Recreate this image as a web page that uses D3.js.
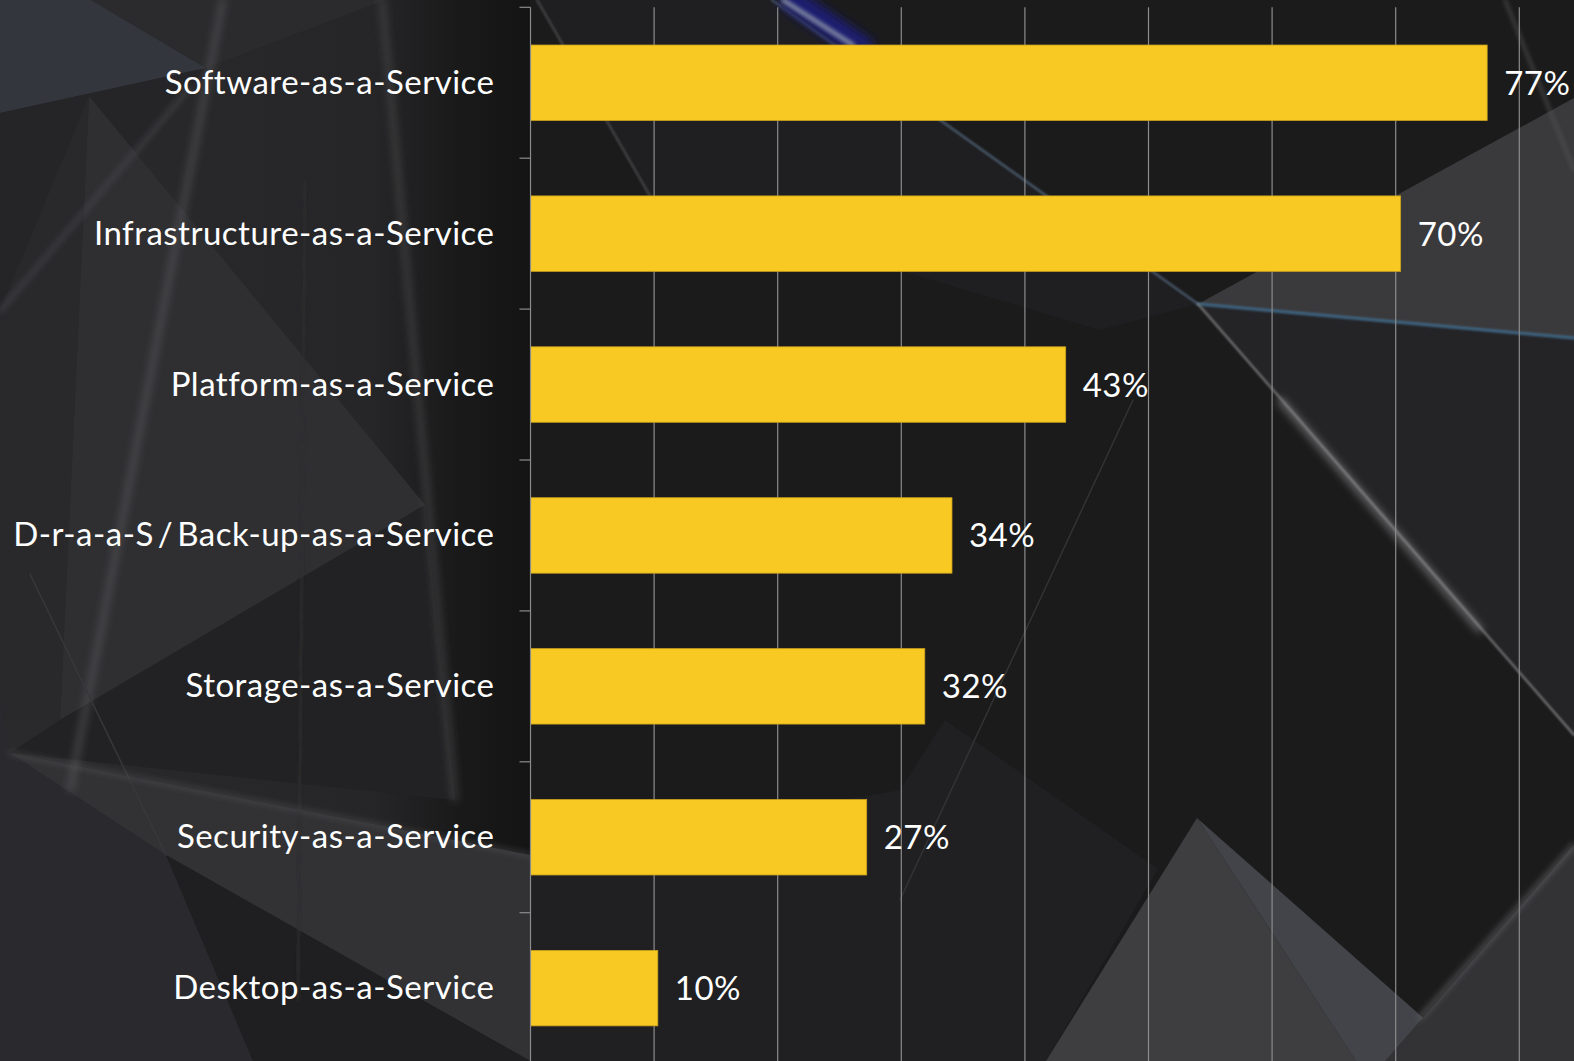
<!DOCTYPE html>
<html><head><meta charset="utf-8">
<script src="https://cdn.jsdelivr.net/npm/d3@7"></script>
<style>html,body{margin:0;padding:0;background:#1b1b1c;overflow:hidden}svg{display:block}</style>
</head><body>
<svg id="chart" width="1574" height="1061"></svg>
<script>
// ---- data ----
const categories = [
  "Software-as-a-Service",
  "Infrastructure-as-a-Service",
  "Platform-as-a-Service",
  "D-r-a-a-S / Back-up-as-a-Service",
  "Storage-as-a-Service",
  "Security-as-a-Service",
  "Desktop-as-a-Service"
];
const values = [0.774, 0.704, 0.433, 0.341, 0.319, 0.272, 0.103];
const gridTicks = [0.1, 0.2, 0.3, 0.4, 0.5, 0.6, 0.7, 0.8, 0.9];

// ---- decorative background (not data) ----
const bgPolys = [
  {p:[[0,0],[91,0],[206,68],[0,113]], f:"#33363d"},
  {p:[[91,0],[385,0],[206,68]], f:"#2b2b2e"},
  {p:[[0,113],[206,68],[0,311]], f:"#252528"},
  {p:[[89,96],[425,505],[60,720]], f:"#2f2f32"},
  {p:[[0,311],[89,96],[60,720],[0,720]], f:"#29292c"},
  {p:[[60,720],[425,505],[455,800],[10,753]], f:"#222224"},
  {p:[[0,700],[10,753],[166,855],[253,1061],[0,1061]], f:"#2a2a2e"},
  {p:[[10,753],[530,855],[530,1061],[166,855]], f:"#323235"},
  {p:[[166,855],[530,1061],[253,1061]], f:"#1f1f21"},
  {p:[[945,720],[1158,869],[1046,1061],[530,1061],[530,855],[900,790]], f:"#202023"},
  {p:[[1198,304],[1574,98],[1574,338]], f:"#3a3a3c"},
  {p:[[1198,304],[1574,338],[1574,735]], f:"#242427"},
  {p:[[1197,818],[1046,1061],[1356,1061]], f:"#3e3e40"},
  {p:[[1197,818],[1356,1061],[1472,1061]], f:"#434449"},
  {p:[[1574,845],[1574,1061],[1385,1061]], f:"#333336"},
  {p:[[650,196],[537,0],[772,0],[1198,304],[1100,330]], f:"#1f1f21"}
];
const bgLines = [
  {a:[223,0], b:[70,790], c:"#666668", w:3, blur:4},
  {a:[382,0], b:[455,800], c:"#58585a", w:3, blur:4},
  {a:[0,311], b:[189,88], c:"#555558", w:2, blur:3},
  {a:[30,574], b:[166,855], c:"#38383a", w:1.5, blur:0},
  {a:[305,180], b:[298,1000], c:"#2d2d2f", w:2, blur:1},
  {a:[10,753], b:[530,855], c:"#5a5a5c", w:2, blur:3},
  {a:[537,0], b:[650,196], c:"#4a4a4c", w:2, blur:1},
  {a:[772,0], b:[1198,304], c:"#4f6378", w:2, blur:1},
  {a:[792,0], b:[862,48], c:"#1c1c70", w:24, blur:5},
  {a:[783,0], b:[853,45], c:"#8d97a8", w:4, blur:2},
  {a:[1198,304], b:[1574,338], c:"#3f6684", w:3, blur:1},
  {a:[1198,304], b:[1574,735], c:"#7a7a7c", w:2, blur:1},
  {a:[1280,400], b:[1480,630], c:"#9a9a9c", w:4, blur:4},
  {a:[1133,400], b:[900,900], c:"#333335", w:1.5, blur:0},
  {a:[1505,0], b:[1574,170], c:"#555557", w:2, blur:2},
  {a:[1574,845], b:[1420,1018], c:"#6a6a6c", w:3, blur:3},
  {a:[1172,0], b:[1172,90], c:"#3e5468", w:4, blur:4}
];

const svg = d3.select("#chart");
const W = 1574, H = 1061;
const defs = svg.append("defs");
[1,2,3,4,5].forEach(s => {
  defs.append("filter").attr("id","blur"+s).attr("x","-50%").attr("y","-50%").attr("width","200%").attr("height","200%")
    .append("feGaussianBlur").attr("stdDeviation", s);
});
const lg = defs.append("linearGradient").attr("id","leftShade").attr("x1","0").attr("x2","1").attr("y1","0").attr("y2","0");
lg.append("stop").attr("offset","0").attr("stop-color","#2a2a2c");
lg.append("stop").attr("offset","0.7").attr("stop-color","#262628");
lg.append("stop").attr("offset","0.86").attr("stop-color","#1a1a1b");
lg.append("stop").attr("offset","1").attr("stop-color","#141414");
const rg = defs.append("radialGradient").attr("id","topGlow").attr("cx","0.5").attr("cy","0").attr("r","0.5");
rg.append("stop").attr("offset","0").attr("stop-color","#2a2a8a").attr("stop-opacity",0.5);
rg.append("stop").attr("offset","1").attr("stop-color","#2a2a8a").attr("stop-opacity",0);

const bg = svg.append("g").attr("class","background");
bg.append("rect").attr("width",W).attr("height",H).attr("fill","#1b1b1c");
bg.append("rect").attr("width",530).attr("height",H).attr("fill","url(#leftShade)");
bg.selectAll("polygon").data(bgPolys).join("polygon")
  .attr("points", d => d.p.map(q => q.join(",")).join(" "))
  .attr("fill", d => d.f);
bg.append("ellipse").attr("cx",900).attr("cy",0).attr("rx",150).attr("ry",50).attr("fill","url(#topGlow)");
bg.selectAll("line.deco").data(bgLines).join("line").attr("class","deco")
  .attr("x1", d => d.a[0]).attr("y1", d => d.a[1]).attr("x2", d => d.b[0]).attr("y2", d => d.b[1])
  .attr("stroke", d => d.c).attr("stroke-width", d => d.w)
  .attr("stroke-linecap","round")
  .attr("filter", d => d.blur ? "url(#blur" + d.blur + ")" : null);

// ---- scales ----
const x0 = 530.5, tickStep = 123.6;
const x = d3.scaleLinear().domain([0, 0.9]).range([x0, x0 + 9 * tickStep]);
const y = d3.scaleBand().domain(categories).range([7.3, 7.3 + 7 * 150.9])
  .paddingInner(0.5).paddingOuter(0.25);
const yTop = y.range()[0], yBot = y.range()[1];

const plot = svg.append("g");
// gridlines
plot.selectAll("line.grid").data(gridTicks).join("line").attr("class","grid")
  .attr("x1", d => x(d)).attr("x2", d => x(d))
  .attr("y1", yTop).attr("y2", yBot)
  .attr("stroke","#8c8c8c").attr("stroke-width",1.2);

// bars
plot.selectAll("rect.bar").data(values).join("rect").attr("class","bar")
  .attr("x", x(0))
  .attr("y", (d,i) => y(categories[i]))
  .attr("width", d => x(d) - x(0))
  .attr("height", y.bandwidth())
  .attr("fill","#f9c923")
  .attr("stroke","#caa21c").attr("stroke-width",0.8);

// axis line + tick marks at band boundaries
const boundaries = d3.range(categories.length + 1).map(k => yTop + k * y.step());
plot.append("line").attr("x1", x(0)).attr("x2", x(0)).attr("y1", yTop).attr("y2", yBot)
  .attr("stroke","#8c8c8c").attr("stroke-width",1.2);
plot.selectAll("line.tick").data(boundaries).join("line").attr("class","tick")
  .attr("x1", x(0) - 11).attr("x2", x(0)).attr("y1", d => d).attr("y2", d => d)
  .attr("stroke","#8c8c8c").attr("stroke-width",1.2);

const fontFam = "Lato, 'Open Sans', sans-serif";
const fs = 33;
// category labels
plot.selectAll("text.cat").data(categories).join("text").attr("class","cat")
  .attr("x", x(0) - 36)
  .attr("y", d => y(d) + y.bandwidth()/2 + 11)
  .attr("text-anchor","end")
  .attr("fill","#ffffff")
  .attr("font-family", fontFam).attr("font-size", fs)
  .attr("letter-spacing", 0.5)
  .attr("word-spacing", -5)
  .text(d => d);

// value labels
const fmt = d3.format(".0%");
plot.selectAll("text.val").data(values).join("text").attr("class","val")
  .attr("x", d => x(d) + 17)
  .attr("y", (d,i) => y(categories[i]) + y.bandwidth()/2 + 12)
  .attr("fill","#ffffff")
  .attr("font-family", fontFam).attr("font-size", fs)
  .attr("letter-spacing", 0.5)
  .text(d => fmt(d));
</script>
</body></html>
